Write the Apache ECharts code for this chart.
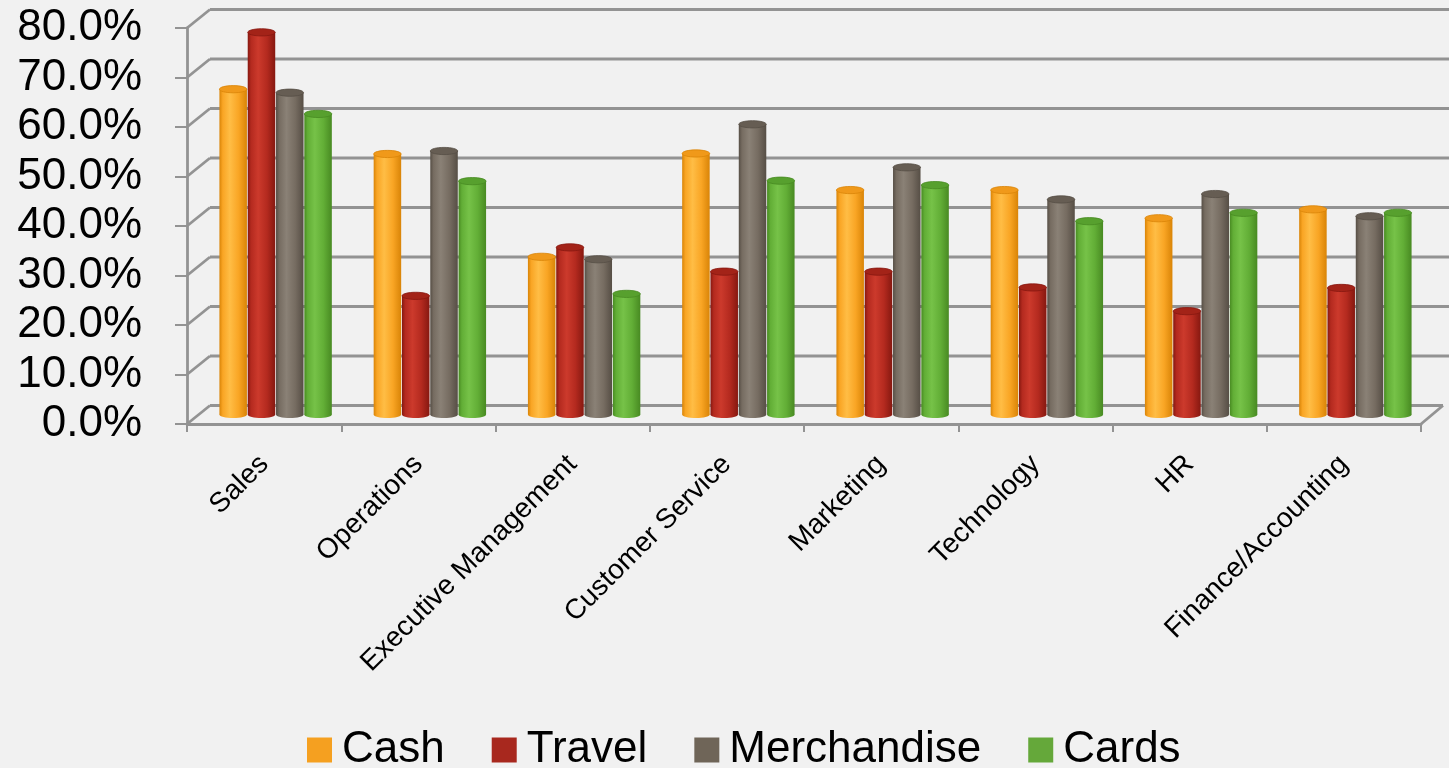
<!DOCTYPE html>
<html>
<head>
<meta charset="utf-8">
<title>Usage by Department</title>
<script src="https://cdn.jsdelivr.net/npm/echarts@6/dist/echarts.min.js"></script>
<style>
  html, body { margin: 0; padding: 0; background: #f1f1f1; }
  #chart { width: 1449px; height: 768px; }
</style>
</head>
<body>
<div id="chart"></div>
<script>
// Departments along the category axis
const categories = ['Sales', 'Operations', 'Executive Management', 'Customer Service',
  'Marketing', 'Technology', 'HR', 'Finance/Accounting'];

// Percent values per reward type
const cash        = [65.8, 52.7, 31.9, 52.8, 45.4, 45.4, 39.7, 41.5];
const travel      = [77.3, 24.0, 33.8, 28.9, 28.9, 25.7, 20.9, 25.6];
const merchandise = [65.1, 53.3, 31.4, 58.7, 50.0, 43.5, 44.6, 40.1];
const cards       = [60.8, 47.2, 24.4, 47.3, 46.4, 39.1, 40.8, 40.8];

// Value axis ticks and their labels
const yTicks = [0, 10, 20, 30, 40, 50, 60, 70, 80];
const yTickLabels = ['0.0%', '10.0%', '20.0%', '30.0%', '40.0%', '50.0%', '60.0%', '70.0%', '80.0%'];

const seriesNames = ['Cash', 'Travel', 'Merchandise', 'Cards'];
const seriesValues = [cash, travel, merchandise, cards];

// Cylinder shading per series
const palettes = [
  { legend: '#f5a020', edge: '#d98407', light: '#ffbd45', body: '#f9a524', cap: '#f0991a' },
  { legend: '#a8281e', edge: '#861810', light: '#cc3a2c', body: '#b42a1f', cap: '#a32318' },
  { legend: '#6f6558', edge: '#564e45', light: '#8a8176', body: '#766c61', cap: '#665d53' },
  { legend: '#65a83a', edge: '#488a22', light: '#76c248', body: '#62ae36', cap: '#57a02e' }
];

// Depth offset of the back wall relative to the front plane
const DEPTH_DX = 23;
const DEPTH_DY = -18.5;
const LINE_COLOR = '#939393';
const LINE_WIDTH = 2.8;

const chart = echarts.init(document.getElementById('chart'), null, { renderer: 'canvas' });

function cylinderRenderer(slot) {
  const p = palettes[slot];
  return function (params, api) {
    const cat = api.value(0);
    const val = api.value(1);
    const top = api.coord([cat, val]);
    const base = api.coord([cat, 0]);
    const w = 27.5;
    const ry = 3.6;
    const pitch = 28.3;
    const cx = top[0] + (slot - 1.5) * pitch;
    const x0 = cx - w / 2;
    const shade = new echarts.graphic.LinearGradient(0, 0, 1, 0, [
      { offset: 0, color: p.edge },
      { offset: 0.12, color: p.body },
      { offset: 0.38, color: p.light },
      { offset: 0.7, color: p.body },
      { offset: 1, color: p.edge }
    ]);
    return {
      type: 'group',
      children: [
        { type: 'ellipse', shape: { cx: cx, cy: base[1], rx: w / 2, ry: ry }, style: { fill: shade } },
        { type: 'rect', shape: { x: x0, y: top[1], width: w, height: base[1] - top[1] }, style: { fill: shade } },
        { type: 'ellipse', shape: { cx: cx, cy: top[1], rx: w / 2, ry: ry },
          style: { fill: p.cap, stroke: p.edge, lineWidth: 0.8 } }
      ]
    };
  };
}

// Side wall diagonals, back wall gridlines and floor edges
function frameRenderer(params, api) {
  const cs = params.coordSys;
  const v = api.value(1);
  const y = api.coord([0, v])[1];
  const xl = cs.x;
  const xr = cs.x + cs.width;
  const yb = y + DEPTH_DY;
  const lineStyle = { stroke: LINE_COLOR, lineWidth: LINE_WIDTH };
  const children = [
    { type: 'line', shape: { x1: xl, y1: y, x2: xl + DEPTH_DX, y2: yb }, style: lineStyle },
    { type: 'line', shape: { x1: xl + DEPTH_DX, y1: yb, x2: v === 0 ? xr + DEPTH_DX - 1 : api.getWidth(), y2: yb },
      style: lineStyle }
  ];
  if (v === 0) {
    children.push({ type: 'line', shape: { x1: xr, y1: y, x2: xr + DEPTH_DX - 1, y2: yb }, style: lineStyle });
  }
  return { type: 'group', children: children };
}

const barSeries = seriesNames.map(function (name, s) {
  return {
    name: name,
    type: 'custom',
    xAxisIndex: 1,
    yAxisIndex: 1,
    z: 5,
    itemStyle: { color: palettes[s].legend },
    encode: { x: 0, y: 1 },
    data: seriesValues[s].map(function (v, i) { return [i, v]; }),
    renderItem: cylinderRenderer(s)
  };
});

const option = {
  backgroundColor: '#f1f1f1',
  animation: false,
  legend: {
    data: seriesNames,
    left: 302,
    top: 723,
    icon: 'rect',
    itemWidth: 25,
    itemHeight: 25,
    itemGap: 47,
    textStyle: {
      fontFamily: 'Liberation Sans, Arial, sans-serif',
      fontSize: 44,
      lineHeight: 44,
      color: '#000',
      padding: [0, 0, 0, 5]
    }
  },
  grid: [
    // front plane: carries the labelled axes
    { left: 187, top: 28, width: 1234, height: 396 },
    // mid depth plane: where the cylinders stand
    { left: 198.5, top: 19, width: 1234, height: 395.5 }
  ],
  xAxis: [
    {
      type: 'category',
      gridIndex: 0,
      data: categories,
      axisLine: { show: true, lineStyle: { color: LINE_COLOR, width: LINE_WIDTH } },
      axisTick: { show: true, length: 8, lineStyle: { color: LINE_COLOR, width: 2 } },
      axisLabel: {
        rotate: 45,
        margin: 36,
        interval: 0,
        fontFamily: 'Liberation Sans, Arial, sans-serif',
        fontSize: 28,
        color: '#000'
      },
      splitLine: { show: false }
    },
    {
      type: 'category',
      gridIndex: 1,
      data: categories,
      show: false
    }
  ],
  yAxis: [
    {
      type: 'value',
      gridIndex: 0,
      min: 0,
      max: 80,
      interval: 10,
      axisLine: { show: true, lineStyle: { color: LINE_COLOR, width: LINE_WIDTH } },
      axisTick: { show: true, inside: false, length: 12, lineStyle: { color: LINE_COLOR, width: 2 } },
      axisLabel: {
        margin: 45,
        fontFamily: 'Liberation Sans, Arial, sans-serif',
        fontSize: 44,
        color: '#000',
        formatter: function (v) { return yTickLabels[yTicks.indexOf(v)]; }
      },
      splitLine: { show: false }
    },
    {
      type: 'value',
      gridIndex: 1,
      min: 0,
      max: 80,
      interval: 10,
      show: false,
      splitLine: { show: false }
    }
  ],
  series: [
    {
      name: 'frame',
      type: 'custom',
      xAxisIndex: 0,
      yAxisIndex: 0,
      z: 1,
      silent: true,
      encode: { x: 0, y: 1 },
      data: yTicks.map(function (v) { return [0, v]; }),
      renderItem: frameRenderer
    }
  ].concat(barSeries)
};

chart.setOption(option);
</script>
</body>
</html>
